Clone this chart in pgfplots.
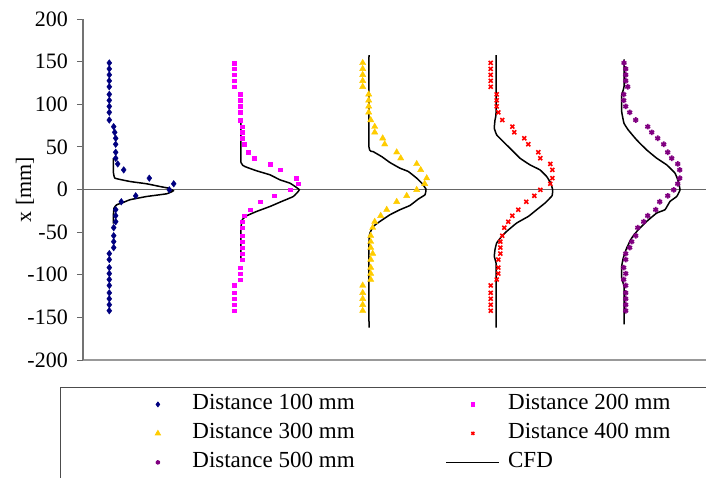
\documentclass[border=0pt]{standalone}
\usepackage{fontspec}
\setmainfont{Liberation Serif}
\usepackage{pgfplots}
\pgfplotsset{compat=1.18}
\definecolor{navyc}{RGB}{0,0,128}
\definecolor{magc}{RGB}{255,0,255}
\definecolor{goldc}{RGB}{255,204,0}
\definecolor{redc}{RGB}{255,0,0}
\definecolor{purc}{RGB}{128,0,128}
\pgfplotsset{
  markleg/.style={legend image code/.code={\path[draw=none,fill=none] (0pt,0pt) (53pt,0pt);\draw[mark repeat=2,mark phase=2,##1] plot coordinates {(0pt,0pt) (26.5pt,0pt) (53pt,0pt)};}},
  lineleg/.style={legend image code/.code={\draw[##1] (0pt,0pt) -- (53pt,0pt);}},
}
\begin{document}
\begin{tikzpicture}
\useasboundingbox (-83pt,-117pt) rectangle (623pt,360pt);
\clip (-83pt,-117pt) rectangle (623pt,360pt);
\begin{axis}[
  at={(0pt,0pt)}, anchor=south west,
  scale only axis, width=623pt, height=341pt,
  xmin=83, xmax=706, ymin=-200, ymax=200,
  axis y line*=left, axis x line*=bottom,
  x axis line style={draw=black!40, line width=1.5pt, -},
  y axis line style={draw=black!55, line width=1.2pt, -},
  xtick=\empty,
  ytick={-200,-150,-100,-50,0,50,100,150,200},
  yticklabels={-200,-150,-100,-50,0,50,100,150,200},
  ytick align=outside, major tick length=6pt,
  ytick style={draw=black!60, line width=1pt},
  yticklabel style={font=\fontsize{22}{22}\selectfont, inner xsep=9pt},
  ylabel={x [mm]},
  ylabel style={font=\fontsize{22}{22}\selectfont, at={(axis cs:25,0)}, anchor=center},
  clip=false,
  legend columns=2,
  legend cell align=left,
  legend style={at={(axis cs:60,-231.7)}, anchor=north west, draw=black!70, line width=0.8pt,
    inner xsep=71pt, inner ysep=7pt, column sep=8pt,
    /tikz/every even column/.append style={column sep=91pt},
    row sep=9pt,
    nodes={inner sep=0pt, text height=15pt, text depth=5pt, font=\fontsize{23}{23}\selectfont}},
]
\draw[black!60, line width=1.5pt] (axis cs:83,0) -- (axis cs:706,0);
% Distance 100 mm
\addplot[only marks, mark=diamond*, mark size=3.3pt, color=navyc, markleg,
  legend image post style={mark size=2.4pt}] table {
x y
109.3 148.5
109.3 141.5
109.3 134.5
109.3 127.5
109.3 120.5
109.3 111.6
109.3 104.6
109.3 97.5
109.3 90.5
109.3 81.5
113.7 73.7
114.7 67.1
115.7 60.1
115.7 53.1
115.7 43.7
115.7 36.7
117.7 30.0
123.7 23.0
149.3 13.3
173.7 6.7
169.3 -0.4
135.7 -7.4
121.3 -14.4
115.7 -23.7
115.7 -30.8
115.7 -37.8
113.7 -44.8
113.7 -54.2
113.7 -61.2
113.7 -68.2
109.3 -75.2
109.3 -82.2
109.3 -91.6
109.3 -98.6
109.3 -105.6
109.3 -112.6
109.3 -121.2
109.3 -128.2
109.3 -135.2
109.3 -142.2
};
\addlegendentry{Distance 100 mm}
% Distance 200 mm
\addplot[only marks, mark=square*, mark size=1.8pt, color=magc, markleg,
  legend image post style={mark size=1.6pt}] table {
x y
234 148.5
234 141.5
234 134.5
234 127.5
234 120.5
240 111.6
240 104.6
240 97.5
240 90.5
240 81.5
242 73.7
242 67.1
242 60.1
244 53.1
248 43.7
254 36.7
270 30.0
280 23.0
296 13.3
298 6.7
290 -0.4
274 -7.4
260 -14.4
250 -23.7
244 -30.8
242 -37.8
242 -44.8
242 -54.2
242 -61.2
242 -68.2
242 -75.2
242 -82.2
240 -91.6
240 -98.6
240 -105.6
234 -112.6
234 -121.2
234 -128.2
234 -135.2
234 -142.2
};
\addlegendentry{Distance 200 mm}
% Distance 300 mm
\addplot[only marks, mark=triangle*, mark size=3.6pt, color=goldc, markleg,
  legend image post style={mark size=3pt}] table {
x y
362.7 148.5
362.7 141.5
362.7 134.5
362.7 127.5
362.7 120.5
368.7 111.6
368.7 104.6
368.7 97.5
368.7 90.5
370.7 81.5
374.7 73.7
374.7 67.1
382.7 60.1
384.7 53.1
396.7 43.7
400.7 36.7
416.7 30.0
420.7 23.0
426.7 13.3
424.7 6.7
416.7 -0.4
406.7 -7.4
396.7 -14.4
386.7 -23.7
380.7 -30.8
374.7 -37.8
372.7 -44.8
370.7 -54.2
370.7 -61.2
370.7 -68.2
372.7 -75.2
370.7 -82.2
370.7 -91.6
370.7 -98.6
370.7 -105.6
362.7 -112.6
362.7 -121.2
362.7 -128.2
362.7 -135.2
362.7 -142.2
};
\addlegendentry{Distance 300 mm}
% Distance 400 mm
\addplot[only marks, mark=x, mark size=2.8pt, line width=1.6pt, color=redc, markleg,
  legend image post style={mark size=2pt}] table {
x y
490.7 148.5
490.7 141.5
490.7 134.5
490.7 127.5
490.7 120.5
496.7 111.6
496.7 104.6
496.7 97.5
498.3 90.5
502.3 81.5
512.3 73.7
514.3 67.1
524.3 60.1
528.3 53.1
538.3 43.7
540.3 36.7
550.3 30.0
552.3 23.0
552.3 13.3
550.3 6.7
540.3 -0.4
534.3 -7.4
526.3 -14.4
518.3 -23.7
512.3 -30.8
508.3 -37.8
504.3 -44.8
502.3 -54.2
500.3 -61.2
500.3 -68.2
500.3 -75.2
498.3 -82.2
498.3 -91.6
498.3 -98.6
496.7 -105.6
490.7 -112.6
490.7 -121.2
490.7 -128.2
490.7 -135.2
490.7 -142.2
};
\addlegendentry{Distance 400 mm}
% Distance 500 mm
\addplot[only marks, mark=asterisk, mark size=2.8pt, line width=1.6pt, color=purc, markleg,
  legend image post style={mark size=2.2pt}] table {
x y
624.0 148.5
625.7 141.5
625.7 134.5
625.7 127.5
627.7 120.5
623.7 111.6
623.7 104.6
625.7 97.5
629.7 90.5
635.7 81.5
647.7 73.7
651.7 67.1
657.7 60.1
663.7 53.1
667.7 43.7
671.7 36.7
677.7 30.0
679.7 23.0
679.7 13.3
677.7 6.7
673.7 -0.4
667.7 -7.4
659.7 -14.4
655.7 -23.7
647.7 -30.8
643.7 -37.8
637.7 -44.8
635.7 -54.2
631.7 -61.2
629.7 -68.2
625.7 -75.2
625.7 -82.2
623.7 -91.6
625.7 -98.6
623.7 -105.6
625.7 -112.6
625.7 -121.2
625.7 -128.2
625.7 -135.2
625.7 -142.2
};
\addlegendentry{Distance 500 mm}
% CFD
\addplot[black, line width=1.5pt, smooth, tension=0.2, lineleg] table {
x y
113.3 36.7
113.3 21.0
115.0 13.3
130.0 9.4
146.7 6.7
160.0 3.5
168.3 1.6
173.3 -1.5
166.7 -5.0
146.7 -8.2
130.0 -12.0
123.3 -15.2
116.7 -17.9
114.0 -21.8
113.3 -31.6
113.3 -40.0
};
\addlegendentry{CFD}
\addplot[black, line width=1.5pt, smooth, tension=0.2, forget plot] table {
x y
241.0 79.5
241.0 31.6
245.0 26.9
256.7 21.9
270.0 17.2
280.0 11.3
290.0 7.4
299.3 -0.3
293.3 -8.2
281.7 -14.0
270.0 -19.9
256.7 -25.7
246.7 -30.8
242.3 -35.4
241.0 -45.0
241.0 -82.2
};
\addplot[black, line width=1.5pt, smooth, tension=0.2, forget plot] table {
x y
369.0 157.5
369.0 49.6
373.3 44.4
381.7 38.6
390.0 31.6
400.0 25.0
408.3 21.1
416.7 13.3
421.7 7.5
426.0 0.4
425.0 -6.2
418.3 -11.2
410.0 -18.7
400.0 -23.7
390.0 -29.6
380.0 -37.4
373.3 -43.3
370.0 -51.0
369.0 -60.0
369.0 -162.1
};
\addplot[black, line width=1.5pt, smooth, tension=0.2, forget plot] table {
x y
496.0 157.5
496.0 89.3
495.0 81.5
494.3 71.8
496.7 64.0
503.3 56.1
511.7 46.4
520.0 36.7
530.0 28.9
540.0 23.0
546.7 15.2
550.7 7.5
552.7 -0.4
552.0 -7.4
545.0 -15.9
536.7 -23.7
528.3 -31.6
516.7 -39.3
506.7 -49.1
501.7 -55.0
496.7 -62.7
495.0 -70.5
494.3 -78.4
496.0 -86.1
496.0 -100.0
496.0 -162.1
};
\addplot[black, line width=1.5pt, smooth, tension=0.2, forget plot] table {
x y
624.0 152.5
624.0 120.5
621.7 110.8
621.7 91.2
624.0 77.7
628.3 69.8
636.7 58.1
646.7 46.4
656.7 36.7
666.7 28.9
675.0 19.2
678.3 9.4
680.0 -0.4
676.7 -8.2
670.0 -14.0
665.0 -23.7
656.7 -27.6
646.7 -37.4
638.3 -47.1
631.7 -56.8
626.7 -68.5
623.3 -80.2
621.7 -90.0
621.7 -103.6
624.0 -113.5
624.0 -125.0
624.0 -158.2
};
\end{axis}
\end{tikzpicture}
\end{document}
